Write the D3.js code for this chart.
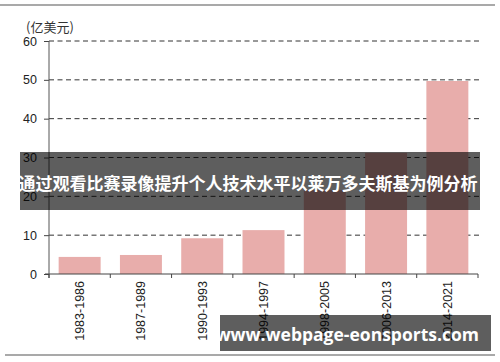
<!DOCTYPE html>
<html>
<head>
<meta charset="utf-8">
<script src="https://cdn.jsdelivr.net/npm/d3@7"></script>
<style>
  body { margin: 0; background: #fff; }
  svg { display: block; }
</style>
</head>
<body>
<div id="container"></div>
<script>
var categories = ['1983-1986', '1987-1989', '1990-1993', '1994-1997', '1998-2005', '2006-2013', '2014-2021'];
var values = [4.4, 4.9, 9.2, 11.3, 21.6, 31.2, 49.7];
var yTicks = [0, 10, 20, 30, 40, 50, 60];
var unitLabel = '(亿美元)';
var bannerText = '通过观看比赛录像提升个人技术水平以莱万多夫斯基为例分析';
var watermark = 'www.webpage-eonsports.com';

var width = 500, height = 362,
    plotLeft = 49, plotRight = 478, plotTop = 41, plotBottom = 274;

var svg = d3.select('#container')
    .append('svg')
    .attr('width', width)
    .attr('height', height);

// frame lines
svg.append('line').attr('x1', 0).attr('x2', 495).attr('y1', 5).attr('y2', 5)
    .style('stroke', '#8c8c8c').style('stroke-width', 1.5);
svg.append('line').attr('x1', 5).attr('x2', 495).attr('y1', 355).attr('y2', 355)
    .style('stroke', '#8c8c8c').style('stroke-width', 1.5);

var scaleX = d3.scaleBand()
    .domain(categories)
    .range([plotLeft, plotRight])
    .paddingInner(0.315)
    .paddingOuter(0.1575);

var scaleY = d3.scaleLinear()
    .domain([0, 60])
    .range([plotBottom, plotTop]);

// grid
svg.selectAll('.grid')
    .data(yTicks.filter(function(d) { return d > 0; }))
    .enter()
    .append('line')
    .attr('x1', plotLeft)
    .attr('x2', plotRight + 1)
    .attr('y1', function(d) { return scaleY(d); })
    .attr('y2', function(d) { return scaleY(d); })
    .style('stroke', '#333')
    .style('stroke-width', 1)
    .style('stroke-dasharray', '5,3.5');

// bars
svg.selectAll('.bar')
    .data(values)
    .enter()
    .append('rect')
    .attr('x', function(d, i) { return scaleX(categories[i]); })
    .attr('y', function(d) { return scaleY(d); })
    .attr('width', scaleX.bandwidth())
    .attr('height', function(d) { return plotBottom - scaleY(d); })
    .style('fill', '#e8adab');

// y axis
var yAxis = svg.append('g')
    .attr('transform', 'translate(' + plotLeft + ',0)')
    .call(d3.axisLeft(scaleY).tickValues(yTicks).tickSize(5).tickPadding(7));
yAxis.select('.domain').remove();
yAxis.selectAll('line').style('stroke', '#444');
yAxis.selectAll('text')
    .style('font-family', '"Liberation Sans", Arial, sans-serif')
    .style('font-size', '12.5px')
    .style('fill', '#222');
svg.append('line').attr('x1', plotLeft).attr('x2', plotLeft).attr('y1', plotTop).attr('y2', plotBottom + 4)
    .style('stroke', '#555').style('stroke-width', 1);

// x axis
svg.append('line').attr('x1', plotLeft - 4).attr('x2', plotRight).attr('y1', plotBottom).attr('y2', plotBottom)
    .style('stroke', '#444').style('stroke-width', 1);
var edges = categories.map(function(c) {
    return scaleX(c) - scaleX.step() * scaleX.paddingInner() / 2;
});
edges.push(plotRight);
svg.selectAll('.xtick')
    .data(edges)
    .enter()
    .append('line')
    .attr('x1', function(d) { return d; })
    .attr('x2', function(d) { return d; })
    .attr('y1', plotBottom)
    .attr('y2', plotBottom + 4)
    .style('stroke', '#444');

svg.selectAll('.xlabel')
    .data(categories)
    .enter()
    .append('text')
    .text(function(d) { return d; })
    .attr('transform', function(d) {
        return 'translate(' + (scaleX(d) + scaleX.bandwidth() / 2 + 4.5) + ',' + (plotBottom + 7) + ') rotate(-90)';
    })
    .attr('text-anchor', 'end')
    .style('font-family', '"Liberation Sans", Arial, sans-serif')
    .style('font-size', '12.5px')
    .style('fill', '#222');

svg.append('text')
    .text(unitLabel)
    .attr('x', 26)
    .attr('y', 32)
    .style('font-family', '"Noto Sans CJK SC", sans-serif')
    .style('font-size', '13px')
    .style('fill', '#333');

// banner overlay
svg.append('rect')
    .attr('x', 20).attr('y', 152).attr('width', 460).attr('height', 58)
    .style('fill', 'rgba(0,0,0,0.63)');
svg.append('text')
    .text(bannerText)
    .attr('x', 248)
    .attr('y', 190)
    .attr('text-anchor', 'middle')
    .style('font-family', '"Noto Sans CJK SC", sans-serif')
    .style('font-weight', 'bold')
    .style('font-size', '17px')
    .style('fill', '#fff');

// watermark
svg.append('rect')
    .attr('x', 220).attr('y', 315).attr('width', 271).attr('height', 36)
    .style('fill', 'rgba(0,0,0,0.63)');
svg.append('text')
    .text(watermark)
    .attr('x', 479)
    .attr('y', 341)
    .attr('text-anchor', 'end')
    .style('font-family', '"Open Sans", sans-serif')
    .style('font-weight', 'bold')
    .style('font-size', '17.5px')
    .style('fill', '#fff');
</script>
</body>
</html>
